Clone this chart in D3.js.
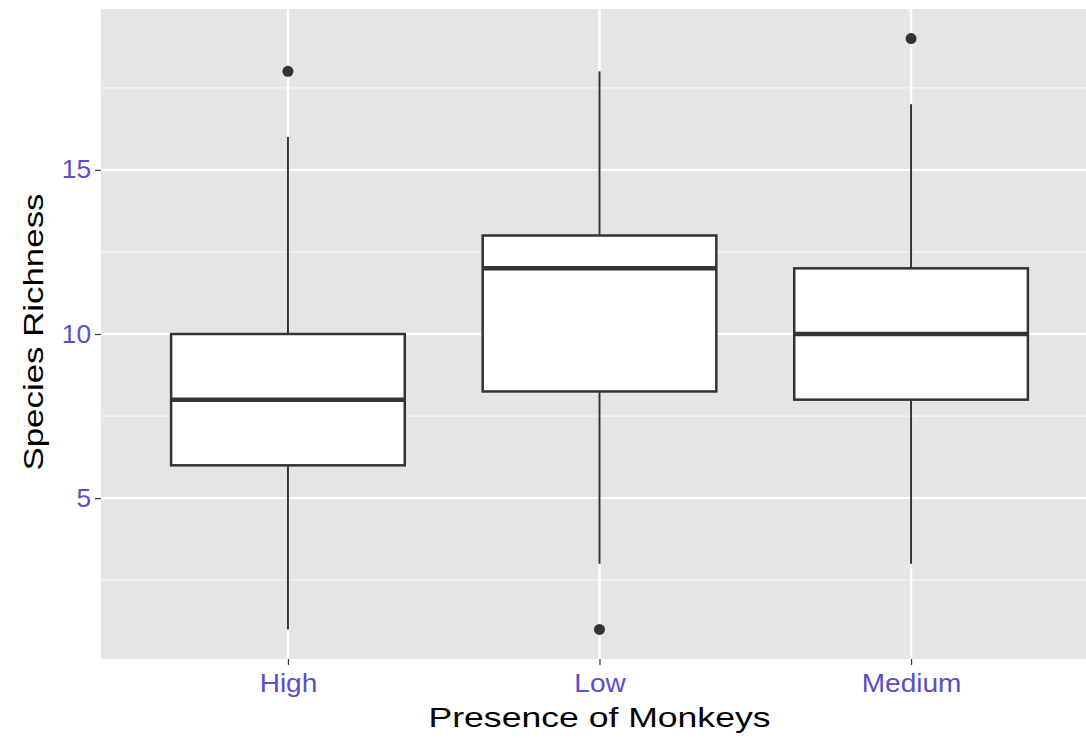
<!DOCTYPE html>
<html><head><meta charset="utf-8">
<script src="https://cdn.jsdelivr.net/npm/d3@7"></script>
<style>body{margin:0;background:#fff}svg{display:block}</style>
</head><body>
<svg id="c" width="1086" height="738"></svg>
<script>
const categories = ["High", "Low", "Medium"];
const whiskerLow = [1, 3, 3];
const q1 = [6, 8.25, 8];
const median = [8, 12, 10];
const q3 = [10, 13, 12];
const whiskerHigh = [16, 18, 17];
const outliers = [[18], [1], [19]];
const yTicks = [5, 10, 15];
const yMinor = [2.5, 7.5, 12.5, 17.5];

const FONT = "Liberation Sans, Arial, sans-serif";
const svg = d3.select("#c");
const L = 101, R = 1098, T = 9, B = 659;
const y = d3.scaleLinear().domain([0.1, 19.9]).range([B, T]);
const x = d3.scalePoint().domain(categories).range([L + 0.6 * (R - L) / 3.2, R - 0.6 * (R - L) / 3.2]);
const step = (R - L) / 3.2;
const bw = 0.75 * step;

svg.append("rect").attr("x", L).attr("y", T).attr("width", R - L).attr("height", B - T).attr("fill", "#e5e5e5");
svg.selectAll(".minor").data(yMinor).join("line")
  .attr("x1", L).attr("x2", R).attr("y1", d => y(d)).attr("y2", d => y(d))
  .attr("stroke", "#f5f5f5").attr("stroke-width", 1.2);
svg.selectAll(".major").data(yTicks).join("line")
  .attr("x1", L).attr("x2", R).attr("y1", d => y(d)).attr("y2", d => y(d))
  .attr("stroke", "#fff").attr("stroke-width", 2.4);
svg.selectAll(".vmajor").data(categories).join("line")
  .attr("x1", d => x(d)).attr("x2", d => x(d)).attr("y1", T).attr("y2", B)
  .attr("stroke", "#fff").attr("stroke-width", 2.4);

const data = categories.map((c, i) => ({c, lo: whiskerLow[i], q1: q1[i], med: median[i], q3: q3[i], hi: whiskerHigh[i], out: outliers[i]}));
const g = svg.append("g");
data.forEach(d => {
  const cx = x(d.c);
  g.append("line").attr("x1", cx).attr("x2", cx).attr("y1", y(d.hi)).attr("y2", y(d.q3)).attr("stroke", "#333").attr("stroke-width", 2);
  g.append("line").attr("x1", cx).attr("x2", cx).attr("y1", y(d.q1)).attr("y2", y(d.lo)).attr("stroke", "#333").attr("stroke-width", 2);
  g.append("rect").attr("x", cx - bw / 2).attr("width", bw).attr("y", y(d.q3)).attr("height", y(d.q1) - y(d.q3))
    .attr("fill", "#fff").attr("stroke", "#333").attr("stroke-width", 2.5);
  g.append("line").attr("x1", cx - bw / 2).attr("x2", cx + bw / 2).attr("y1", y(d.med)).attr("y2", y(d.med)).attr("stroke", "#333").attr("stroke-width", 4.5);
  d.out.forEach(o => g.append("circle").attr("cx", cx).attr("cy", y(o)).attr("r", 5.5).attr("fill", "#333"));
});

function stretch(sel, k) {
  sel.each(function () {
    const w = this.getComputedTextLength();
    d3.select(this).attr("textLength", w * k).attr("lengthAdjust", "spacingAndGlyphs");
  });
}

// y axis
const yAx = svg.append("g").attr("transform", `translate(${L},0)`)
  .call(d3.axisLeft(y).tickValues(yTicks).tickSize(6).tickPadding(4));
yAx.select(".domain").remove();
yAx.selectAll("line").attr("stroke", "#333").attr("stroke-width", 1.2);
yAx.selectAll("text").attr("fill", "#5a4fc4").style("font-family", FONT).style("font-size", "25px");
stretch(yAx.selectAll("text"), 1.05);

const xAx = svg.append("g").attr("transform", `translate(0,${B})`)
  .call(d3.axisBottom(x).tickSize(6).tickPadding(9));
xAx.select(".domain").remove();
xAx.selectAll("line").attr("stroke", "#333").attr("stroke-width", 1.2);
xAx.selectAll("text").attr("fill", "#5a4fc4").style("font-family", FONT).style("font-size", "25px");
stretch(xAx.selectAll("text"), 1.12);

const xt = svg.append("text").attr("x", (L + R) / 2).attr("y", 727).attr("text-anchor", "middle")
  .style("font-family", FONT).style("font-size", "28px").attr("fill", "#000")
  .text("Presence of Monkeys");
xt.attr("textLength", 342).attr("lengthAdjust", "spacingAndGlyphs");
const yt = svg.append("text").attr("transform", `translate(43,${332}) rotate(-90)`).attr("text-anchor", "middle")
  .style("font-family", FONT).style("font-size", "28px").attr("fill", "#000")
  .text("Species Richness");
yt.attr("textLength", 277).attr("lengthAdjust", "spacingAndGlyphs");
</script>
</body></html>
